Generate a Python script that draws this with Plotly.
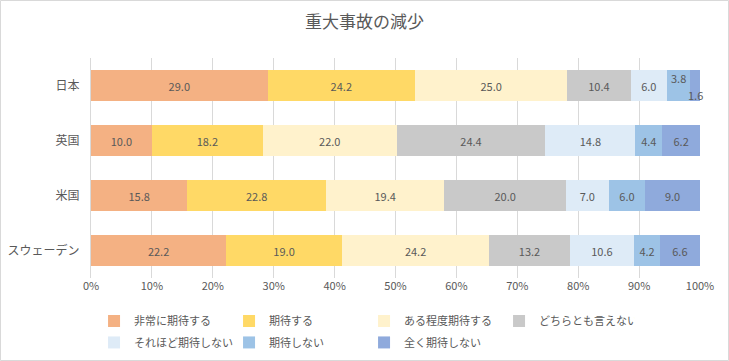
import plotly.graph_objects as go

countries = ["日本", "英国", "米国", "スウェーデン"]
series_names = ["非常に期待する", "期待する", "ある程度期待する", "どちらとも言えない",
                "それほど期待しない", "期待しない", "全く期待しない"]
values = {
    "非常に期待する": [29.0, 10.0, 15.8, 22.2],
    "期待する": [24.2, 18.2, 22.8, 19.0],
    "ある程度期待する": [25.0, 22.0, 19.4, 24.2],
    "どちらとも言えない": [10.4, 24.4, 20.0, 13.2],
    "それほど期待しない": [6.0, 14.8, 7.0, 10.6],
    "期待しない": [3.8, 4.4, 6.0, 4.2],
    "全く期待しない": [1.6, 6.2, 9.0, 6.6],
}
colors = ["#F4B183", "#FFD966", "#FFF2CC", "#C9C9C9", "#DEEBF7", "#9DC3E6", "#8FAADC"]
tick_vals = [0, 10, 20, 30, 40, 50, 60, 70, 80, 90, 100]
tick_text = [f"{v}%" for v in tick_vals]

FONT = "Noto Sans CJK JP, Meiryo, sans-serif"
TXT = "#595959"

fig = go.Figure()
cum = [0.0] * len(countries)
annotations = []
for k, (name, col) in enumerate(zip(series_names, colors)):
    vals = values[name]
    texts = []
    for i, v in enumerate(vals):
        if countries[i] == "日本" and name in ("期待しない", "全く期待しない"):
            texts.append("")
            mid = cum[i] + v / 2
            annotations.append(dict(x=mid, y=countries[i], xref="x", yref="y",
                                    text=f"{v:.1f}", showarrow=False,
                                    yshift=8 if name == "期待しない" else -9,
                                    font=dict(size=11, color=TXT, family=FONT)))
        else:
            texts.append(f"{v:.1f}")
        cum[i] += v
    fig.add_trace(go.Bar(
        name=name, y=countries, x=vals, orientation="h",
        marker=dict(color=col, line=dict(width=0)),
        text=texts, textposition="inside", insidetextanchor="middle",
        textangle=0, constraintext="none",
        textfont=dict(size=11, color=TXT, family=FONT),
        hoverinfo="x+name",
        legend="legend" if k < 4 else "legend2",
    ))

W, H = 729, 361
ml, mr, mt, mb = 91, 29, 58, 83
pw, ph = W - ml - mr, H - mt - mb
fig.add_shape(type="rect", xref="paper", yref="paper",
              x0=(0.5 - ml) / pw, x1=(W - 0.5 - ml) / pw,
              y0=-(mb - 0.5) / ph, y1=1 + (mt - 0.5) / ph,
              line=dict(color="#D9D9D9", width=1), fillcolor="rgba(0,0,0,0)", layer="below")

leg_common = dict(orientation="h", x=0.005, xanchor="left", yanchor="top",
                  entrywidth=90, entrywidthmode="pixels", traceorder="normal",
                  font=dict(size=11, color=TXT, family=FONT), itemwidth=30,
                  bgcolor="rgba(0,0,0,0)")

fig.update_layout(
    width=W, height=H,
    barmode="stack", bargap=0.44,
    margin=dict(l=ml, r=mr, t=mt, b=mb, autoexpand=False),
    paper_bgcolor="white", plot_bgcolor="white",
    title=dict(text="重大事故の減少", x=0.5, xanchor="center", y=0.94, yanchor="middle",
               font=dict(size=17, color=TXT, family=FONT)),
    font=dict(family=FONT, color=TXT, size=11),
    xaxis=dict(range=[0, 100], tickvals=tick_vals, ticktext=tick_text,
               showgrid=True, gridcolor="#D9D9D9", gridwidth=1, zeroline=False,
               showline=False, ticks="", tickfont=dict(size=11, color=TXT),
               automargin=False),
    yaxis=dict(categoryorder="array", categoryarray=countries[::-1],
               showline=True, linecolor="#D9D9D9", ticks="", ticklabelstandoff=8,
               tickfont=dict(size=12, color=TXT), automargin=False),
    legend=dict(y=-0.13, **leg_common),
    legend2=dict(y=-0.227, **leg_common),
    annotations=annotations,
    showlegend=True,
)

fig.write_html("out.html", config={"displayModeBar": False},
               post_script="document.body.style.margin='0px';")
